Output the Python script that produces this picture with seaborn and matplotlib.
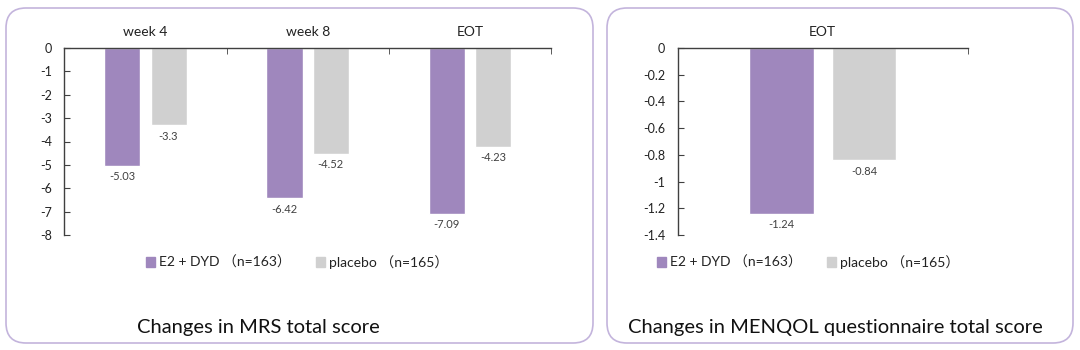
import pandas as pd
import seaborn as sns
import matplotlib.pyplot as plt
from matplotlib.patches import FancyBboxPatch
from matplotlib.ticker import FuncFormatter, MultipleLocator

# data
mrs_times = ['week 4', 'week 8', 'EOT']
mrs_e2dyd = [-5.03, -6.42, -7.09]
mrs_placebo = [-3.3, -4.52, -4.23]

menqol_times = ['EOT']
menqol_e2dyd = [-1.24]
menqol_placebo = [-0.84]

groups = ['E2 + DYD （n=163）', 'placebo （n=165）']
colors = ['#9f87bd', '#d0d0d0']

mrs_df = pd.DataFrame({
    'time': mrs_times * 2,
    'change': mrs_e2dyd + mrs_placebo,
    'group': [groups[0]] * 3 + [groups[1]] * 3,
})
menqol_df = pd.DataFrame({
    'time': menqol_times * 2,
    'change': menqol_e2dyd + menqol_placebo,
    'group': [groups[0], groups[1]],
})

sns.set_style('white')
plt.rcParams['font.family'] = ['Lato', 'Noto Sans CJK SC', 'DejaVu Sans']
plt.rcParams['axes.unicode_minus'] = False

fig = plt.figure(figsize=(10.8, 3.5), dpi=100)

# rounded panel frames (in inches, 100 px per inch)
for x0, x1 in [(6, 593), (607, 1073)]:
    box = FancyBboxPatch((x0 / 100, (350 - 343) / 100), (x1 - x0) / 100, (343 - 8) / 100,
                         boxstyle='round,pad=0,rounding_size=0.2',
                         transform=fig.dpi_scale_trans, fill=False,
                         edgecolor='#c3b4dc', linewidth=1.2)
    fig.patches.append(box)

ax1 = fig.add_axes([64.3 / 1080, 1 - 235 / 350, (551 - 64.3) / 1080, (235 - 48) / 350])
ax2 = fig.add_axes([677.7 / 1080, 1 - 235 / 350, (967.7 - 677.7) / 1080, (235 - 48) / 350])


def draw(ax, df, ymin, step, legend_x, title, title_x):
    sns.barplot(data=df, x='time', y='change', hue='group', palette=colors,
                width=0.57, gap=0.22, ax=ax, legend=False, saturation=1)
    n = df['time'].nunique()
    ax.set_xlim(-0.5, n - 0.5)
    ax.set_ylim(ymin, 0)
    ax.yaxis.set_major_locator(MultipleLocator(step))
    ax.yaxis.set_major_formatter(FuncFormatter(lambda v, p: '%g' % round(v, 2)))
    ax.xaxis.tick_top()
    ax.set_xlabel('')
    ax.set_ylabel('')
    ax.set_xticks(range(n))
    ax.set_xticklabels(df['time'].unique()[:n], fontsize=10, color='#222222')
    ax.tick_params(axis='x', which='major', length=0, pad=7)
    ax.set_xticks([i + 0.5 for i in range(n)], minor=True)
    ax.tick_params(axis='x', which='minor', direction='in', length=4, color='#404040',
                   top=True, bottom=False)
    ax.tick_params(axis='y', direction='in', length=4, color='#404040', pad=9,
                   labelsize=9, labelcolor='#222222', left=True)
    for s in ['bottom', 'right']:
        ax.spines[s].set_visible(False)
    for s in ['top', 'left']:
        ax.spines[s].set_color('#404040')
        ax.spines[s].set_linewidth(1.0)
    for cont in ax.containers:
        ax.bar_label(cont, labels=['%g' % v for v in cont.datavalues],
                     padding=4, fontsize=8, color='#404040')
    handles = [plt.Rectangle((0, 0), 1, 1, color=c) for c in colors]
    fig.legend(handles, groups, loc='center', bbox_to_anchor=(legend_x, 1 - 262 / 350),
               ncol=2, frameon=False, fontsize=10, handlelength=0.65, handleheight=0.65,
               handletextpad=0.3, columnspacing=1.8, labelcolor='#222222')
    fig.text(title_x, 1 - 327 / 350, title, ha='center', va='center',
             fontsize=14.5, color='#111111')


draw(ax1, mrs_df, -8, 1, 297 / 1080, 'Changes in MRS total score', 258 / 1080)
draw(ax2, menqol_df, -1.4, 0.2, 808 / 1080, 'Changes in MENQOL questionnaire total score', 835 / 1080)

fig.savefig('out.png', dpi=100)
